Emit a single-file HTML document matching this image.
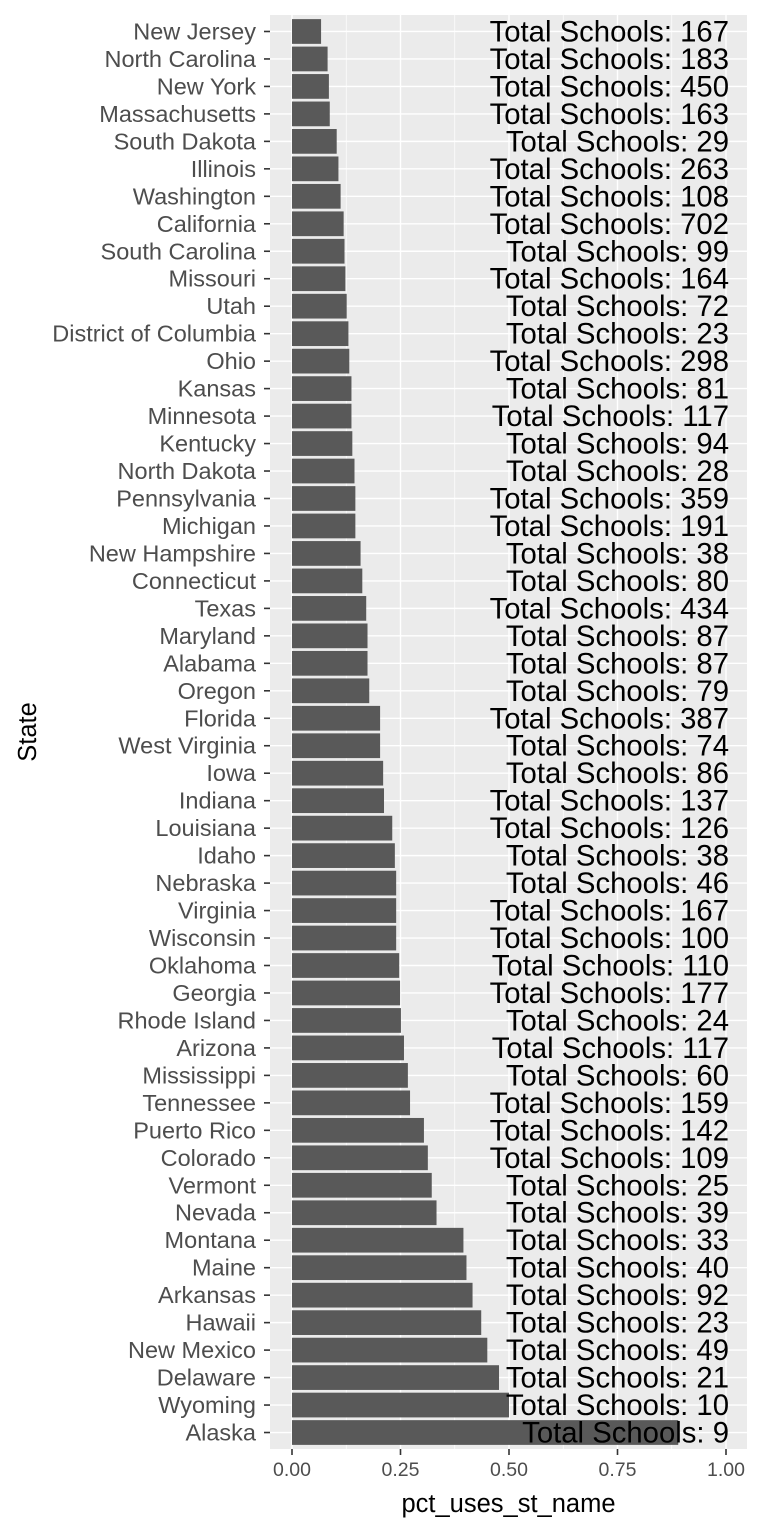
<!DOCTYPE html>
<html><head><meta charset="utf-8"><style>
body{margin:0;background:#fff;width:768px;height:1536px;overflow:hidden}
svg{display:block;font-family:"Liberation Sans",sans-serif}
</style></head><body>
<svg id="chart" width="768" height="1536"></svg>
<script>
const states=["New Jersey","North Carolina","New York","Massachusetts","South Dakota","Illinois","Washington","California","South Carolina","Missouri","Utah","District of Columbia","Ohio","Kansas","Minnesota","Kentucky","North Dakota","Pennsylvania","Michigan","New Hampshire","Connecticut","Texas","Maryland","Alabama","Oregon","Florida","West Virginia","Iowa","Indiana","Louisiana","Idaho","Nebraska","Virginia","Wisconsin","Oklahoma","Georgia","Rhode Island","Arizona","Mississippi","Tennessee","Puerto Rico","Colorado","Vermont","Nevada","Montana","Maine","Arkansas","Hawaii","New Mexico","Delaware","Wyoming","Alaska"];
const pctValues=[0.067,0.082,0.085,0.087,0.103,0.107,0.112,0.119,0.121,0.123,0.126,0.130,0.132,0.137,0.137,0.139,0.144,0.146,0.146,0.158,0.162,0.171,0.174,0.174,0.178,0.203,0.203,0.210,0.212,0.231,0.237,0.240,0.240,0.240,0.247,0.249,0.251,0.258,0.267,0.272,0.304,0.313,0.322,0.333,0.395,0.402,0.416,0.436,0.450,0.477,0.500,0.890];
const totalSchools=[167,183,450,163,29,263,108,702,99,164,72,23,298,81,117,94,28,359,191,38,80,434,87,87,79,387,74,86,137,126,38,46,167,100,110,177,24,117,60,159,142,109,25,39,33,40,92,23,49,21,10,9];
const xTicks=[0,0.25,0.5,0.75,1];
const xTickLabels=["0.00","0.25","0.50","0.75","1.00"];

const svg=document.getElementById('chart');
const NS="http://www.w3.org/2000/svg";
const PL=270,PR=747,PT=15,PB=1449;
const x0=292,x1=726;
const xs=v=>x0+v*(x1-x0);
const n=states.length;
const step=(PB-PT)/(n-1+1.2);
const ys=i=>PT+step*0.6+i*step;
function mk(tag,attrs,parent){const e=document.createElementNS(NS,tag);for(const k in attrs)e.setAttribute(k,attrs[k]);(parent||svg).appendChild(e);return e;}

const panel=mk('rect',{x:PL,y:PT,width:PR-PL,height:PB-PT,fill:'#ebebeb'});


for(let i=0;i<xTicks.length-1;i++){
  const v=(xTicks[i]+xTicks[i+1])/2;
  const g=mk('line',{x1:xs(v),x2:xs(v),y1:PT,y2:PB,stroke:'#fff','stroke-width':0.7});
  
  
}
xTicks.forEach((v,i)=>{
  const g=mk('line',{x1:xs(v),x2:xs(v),y1:PT,y2:PB,stroke:'#fff','stroke-width':1.4});
  
  
  const t=mk('line',{x1:xs(v),x2:xs(v),y1:PB,y2:PB+6,stroke:'#333','stroke-width':1.6});
  
  
  const l=mk('text',{x:xs(v),y:PB+27,'text-anchor':'middle','font-size':19.5,fill:'#4d4d4d'});
  l.textContent=xTickLabels[i];
  
  
});
states.forEach((s,i)=>{
  const y=ys(i);
  const g=mk('line',{x1:PL,x2:PR,y1:y,y2:y,stroke:'#fff','stroke-width':1.4});
  
  
});
states.forEach((s,i)=>{
  const y=ys(i),h=step*0.9;
  const b=mk('rect',{x:xs(0),y:y-h/2,width:xs(pctValues[i])-xs(0),height:h,fill:'#595959'});
  
  
  const t=mk('line',{x1:PL-6,x2:PL,y1:y,y2:y,stroke:'#333','stroke-width':1.6});
  
  
  const l=mk('text',{x:PL-14,y:y+8,'text-anchor':'end','font-size':23.5,fill:'#4d4d4d'});
  l.textContent=s;
  
  
});
states.forEach((s,i)=>{
  const l=mk('text',{x:729,y:ys(i)+10,'text-anchor':'end','font-size':29.3,fill:'#000'});
  l.textContent='Total Schools: '+totalSchools[i];
  
  
});
const xt=mk('text',{x:(PL+PR)/2,y:1512,'text-anchor':'middle','font-size':25.5,fill:'#000'});
xt.textContent='pct_uses_st_name';


const yt=mk('text',{x:0,y:0,'text-anchor':'middle','font-size':25.5,fill:'#000',transform:`translate(36,${(PT+PB)/2}) rotate(-90)`});
yt.textContent='State';


</script>
</body></html>
